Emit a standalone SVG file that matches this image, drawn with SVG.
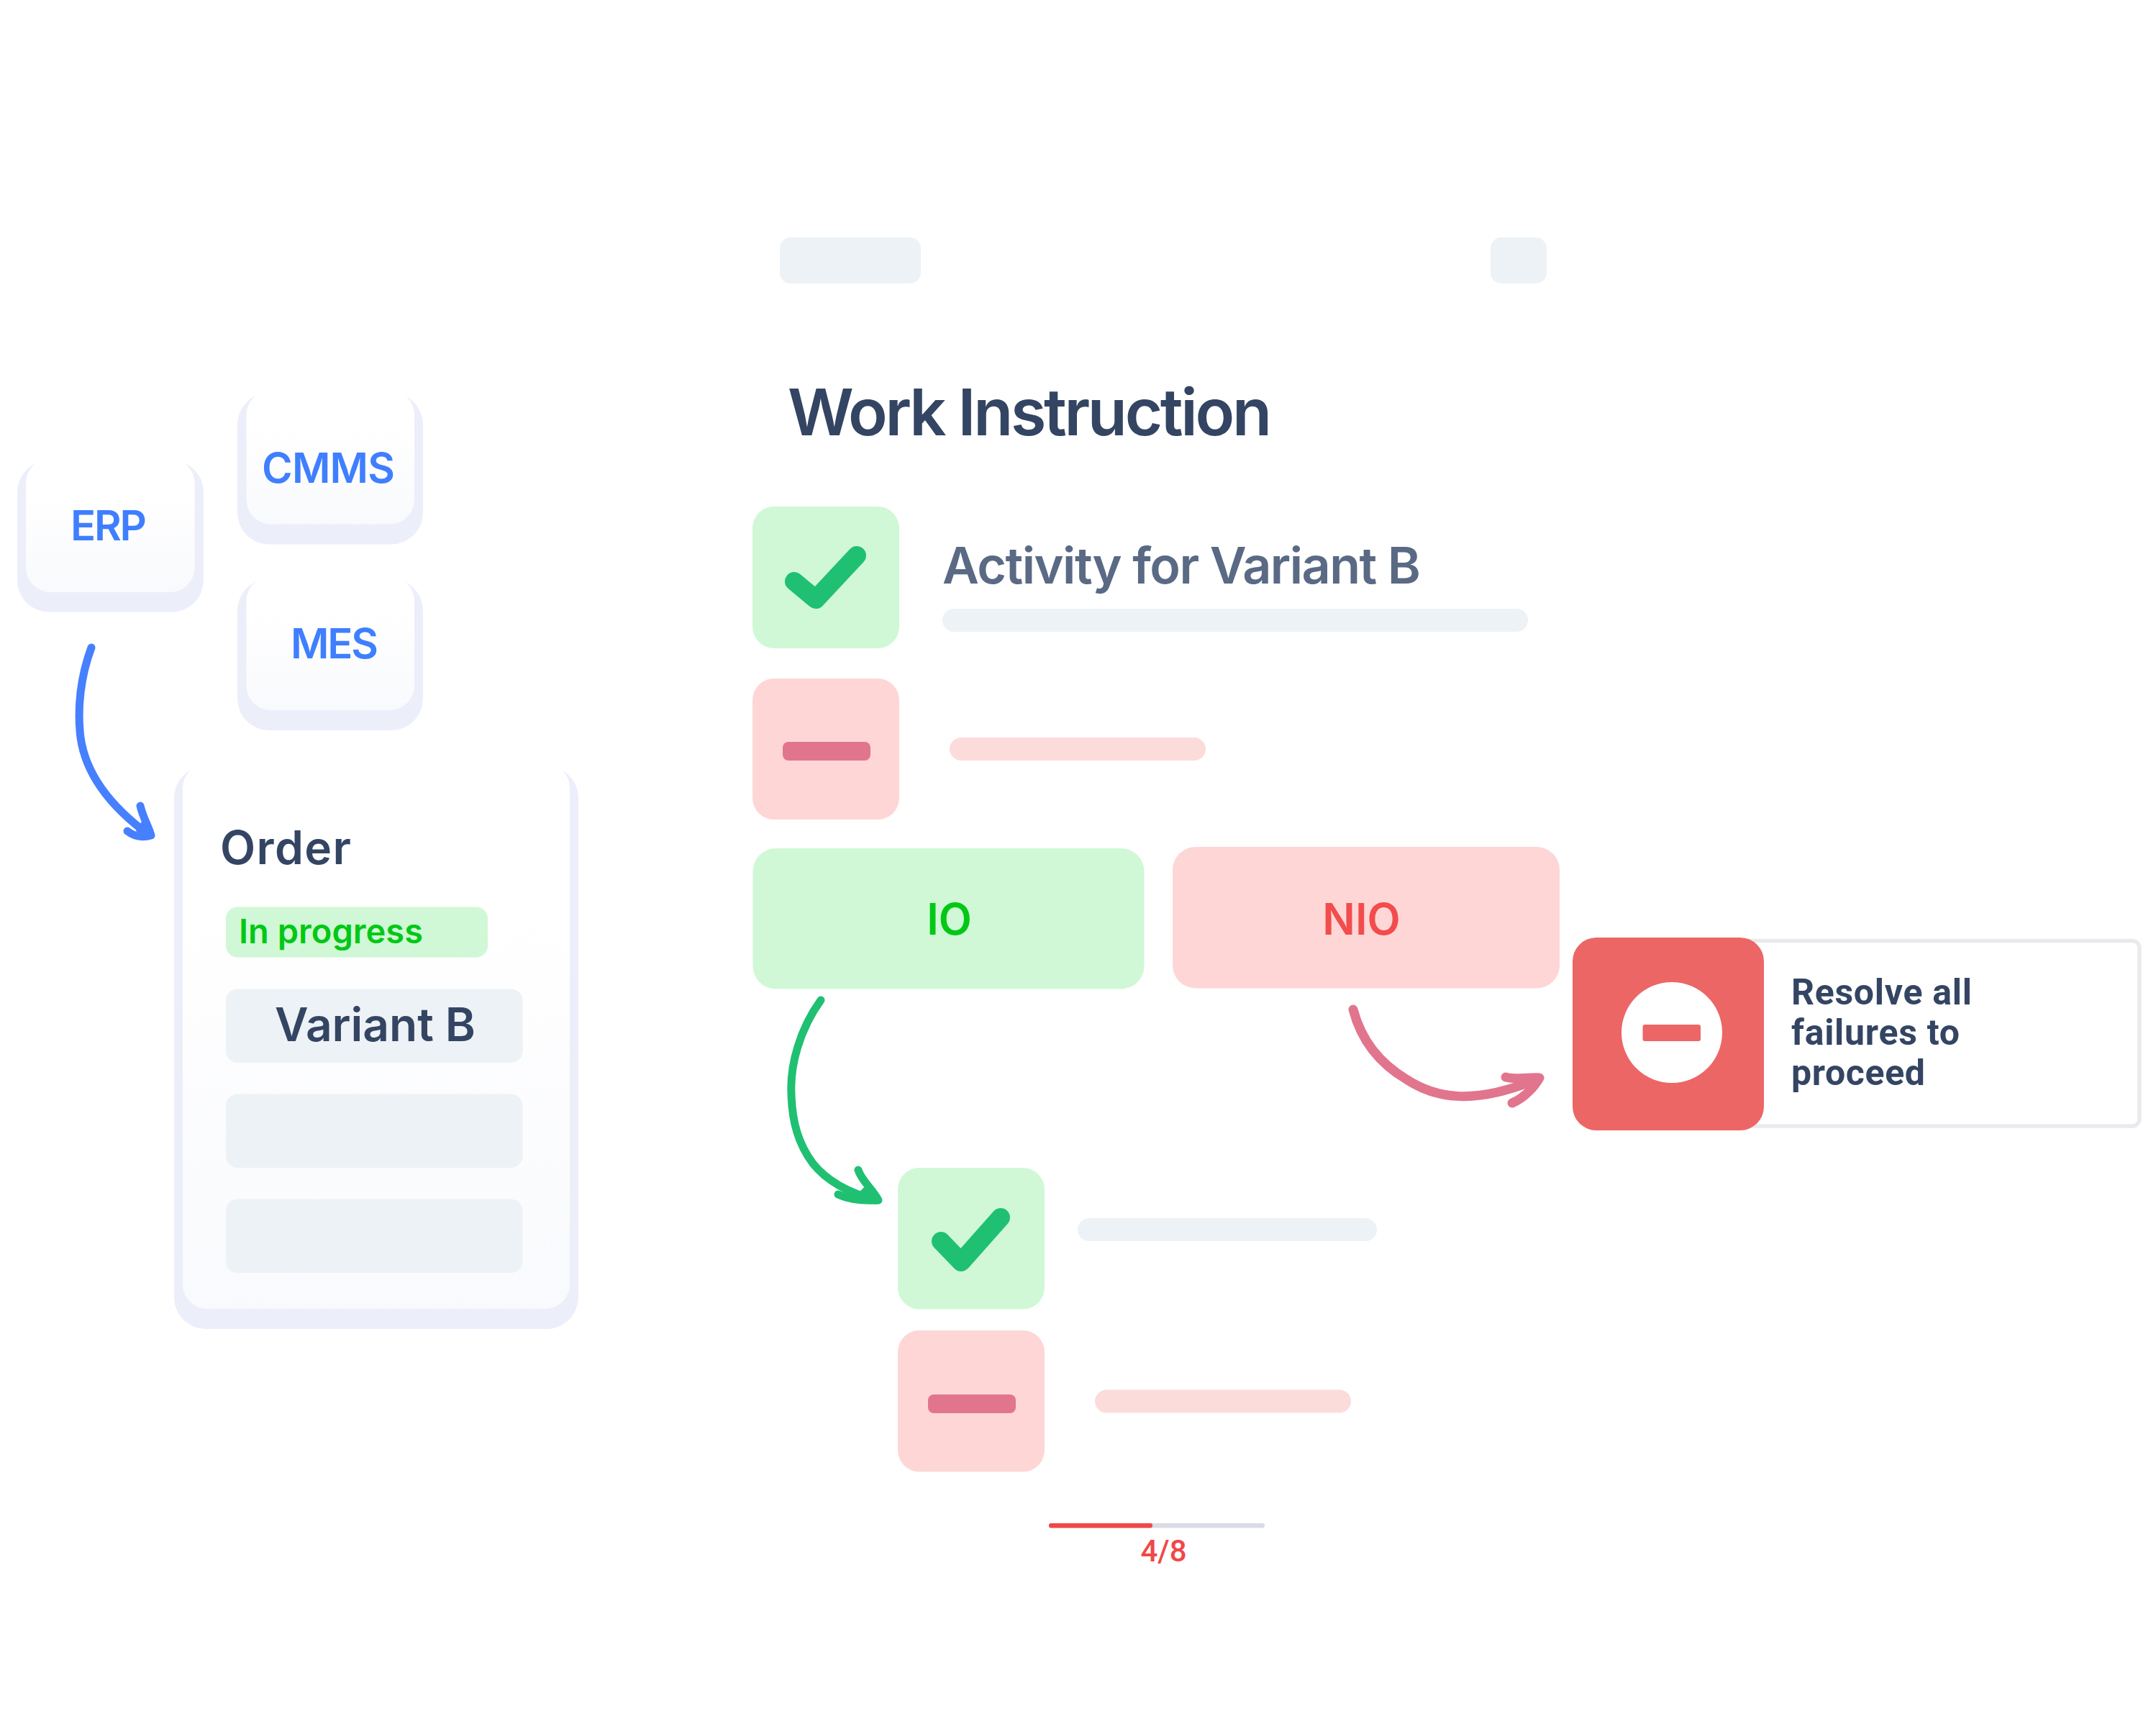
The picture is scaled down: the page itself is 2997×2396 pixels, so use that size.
<svg xmlns="http://www.w3.org/2000/svg" width="2997" height="2396" viewBox="0 0 2997 2396">
<defs>
<linearGradient id="card" x1="0" y1="0" x2="0" y2="1"><stop offset="0" stop-color="#ffffff"/><stop offset="0.25" stop-color="#ffffff"/><stop offset="1" stop-color="#f9fafd"/></linearGradient>
</defs>
<style>
text{font-family:"Inter","Liberation Sans",sans-serif}
.outer{fill:#eceffa}
.inner{fill:url(#card)}
.sys{font-size:58px;font-weight:600;fill:#3f7fff}
.dark{fill:#344563}
.g{fill:#edf2f6}
.okbg{fill:#d0f8d6}
.nobg{fill:#fed6d6}
.pb{fill:#fbdcdb}
.minus{fill:#e2758e}
.tick{fill:none;stroke:#20c072;stroke-width:26;stroke-linecap:round;stroke-linejoin:round}
.cn{fill:none;stroke-width:11;stroke-linecap:round;stroke-linejoin:round}
.rb{font-family:Roboto,sans-serif}
</style>
<rect width="2997" height="2396" fill="#ffffff"/>
<g id="top-placeholders">
<rect class="g" x="1084" y="330" width="196" height="64" rx="15"/>
<rect class="g" x="2072" y="330" width="78" height="64" rx="15"/>
</g>
<g id="erp"><rect class="outer" x="24" y="640" width="259" height="210.500" rx="44"/><rect class="inner" x="36" y="637" width="234.500" height="186" rx="34"/><text class="sys" x="98" y="751" textLength="106" lengthAdjust="spacing">ERP</text></g>
<g id="cmms"><rect class="outer" x="330" y="546" width="258" height="210.500" rx="44"/><rect class="inner" x="342.500" y="542.500" width="233.500" height="186" rx="34"/><text class="sys" x="364" y="670.500" textLength="185" lengthAdjust="spacing">CMMS</text></g>
<g id="mes"><rect class="outer" x="330" y="804.500" width="258" height="210.500" rx="44"/><rect class="inner" x="342.500" y="801" width="233.500" height="186" rx="34"/><text class="sys" x="404" y="915" textLength="122" lengthAdjust="spacing">MES</text></g>
<g id="order">
<rect class="outer" x="242" y="1065" width="562" height="782" rx="44"/>
<rect class="inner" x="254" y="1061" width="538" height="758" rx="34"/>
<text class="dark" x="306" y="1201" font-size="64" font-weight="600" textLength="182" lengthAdjust="spacing">Order</text>
<rect class="okbg" x="314" y="1260.500" width="364" height="70" rx="16"/>
<text x="332" y="1311" font-size="47" font-weight="600" fill="#00c814" textLength="256" lengthAdjust="spacing">In progress</text>
<rect class="g" x="314" y="1374.500" width="412.500" height="102.500" rx="16"/>
<text class="dark" x="382" y="1447" font-size="64" font-weight="600" textLength="279" lengthAdjust="spacing">Variant B</text>
<rect class="g" x="314" y="1520.500" width="412.500" height="102.500" rx="16"/>
<rect class="g" x="314" y="1666.500" width="412.500" height="102.500" rx="16"/>
</g>
<g id="title"><text class="dark" x="1095" y="604.500" font-size="90" font-weight="600" textLength="673" lengthAdjust="spacing">Work Instruction</text></g>
<g id="activity-ok">
<rect class="okbg" x="1046" y="704" width="204" height="197" rx="30"/>
<path class="tick" d="M1104 808L1134 833L1191 772"/>
<text x="1310" y="811" font-size="70" font-weight="600" fill="#5a6a85" textLength="665" lengthAdjust="spacing">Activity for Variant B</text>
<rect class="g" x="1310" y="846" width="814" height="32" rx="16"/>
</g>
<g id="activity-nok">
<rect class="nobg" x="1046" y="943" width="204" height="196" rx="30"/>
<rect class="minus" x="1088" y="1031" width="122" height="26" rx="8"/>
<rect class="pb" x="1320" y="1025" width="356" height="32" rx="16"/>
</g>
<g id="io"><rect class="okbg" x="1046.500" y="1179" width="544" height="195.500" rx="32"/><text x="1319.500" y="1299" font-size="60" font-weight="600" fill="#00c814" text-anchor="middle">IO</text></g>
<g id="nio"><rect class="nobg" x="1630" y="1177" width="538" height="196.500" rx="32"/><text x="1892.500" y="1299" font-size="60" font-weight="600" fill="#f24c4c" text-anchor="middle">NIO</text></g>
<g id="alert">
<rect x="2200" y="1307.500" width="774" height="257.500" rx="10" fill="#ffffff" stroke="#e9eaee" stroke-width="5.500"/>
<rect x="2186" y="1303" width="266" height="268" rx="33" fill="#ec6666"/>
<circle cx="2324" cy="1435" r="70" fill="#ffffff"/>
<rect x="2283.500" y="1424" width="80.500" height="23" rx="3" fill="#ec6666"/>
<text class="dark rb" x="2490" y="1396" font-size="50" font-weight="700" textLength="251" lengthAdjust="spacing">Resolve all</text>
<text class="dark rb" x="2490" y="1452" font-size="50" font-weight="700" textLength="234" lengthAdjust="spacing">failures to</text>
<text class="dark rb" x="2490" y="1508" font-size="50" font-weight="700" textLength="186" lengthAdjust="spacing">proceed</text>
</g>
<g id="step-ok">
<rect class="okbg" x="1248" y="1623" width="204" height="196.500" rx="30"/>
<path class="tick" d="M1308 1725L1336 1754L1391 1692"/>
<rect class="g" x="1498" y="1693" width="416" height="32" rx="16"/>
</g>
<g id="step-nok">
<rect class="nobg" x="1248" y="1849" width="204" height="196.500" rx="30"/>
<rect class="minus" x="1290" y="1938" width="122" height="26" rx="8"/>
<rect class="pb" x="1522" y="1931.500" width="356" height="32" rx="16"/>
</g>
<g id="progress">
<rect x="1458" y="2117" width="300" height="6.500" rx="3" fill="#d9dce5"/>
<rect x="1458" y="2117" width="144" height="6.500" rx="3" fill="#f04848"/>
<text x="1617.500" y="2170" font-size="42" font-weight="500" fill="#f04848" text-anchor="middle" class="rb">4/8</text>
</g>
<g id="connectors">
<g class="cn" style="stroke:#4680ff">
<path d="M127 900C112 940 107 985 112 1025C119 1075 152 1120 208 1161"/>
<path d="M195 1120C199 1137 206 1147 210 1161C199 1164 187 1163 177 1155"/>
<path d="M210 1161L200 1141L191 1154Z" fill="#4680ff" stroke-width="4"/>
</g>
<g class="cn" style="stroke:#20c072">
<path d="M1141 1390C1112 1430 1098 1480 1100 1520C1101 1560 1110 1590 1130 1617C1150 1642 1180 1658 1218 1668"/>
<path d="M1193 1626C1198 1642 1213 1652 1221 1668C1202 1669 1180 1667 1165 1660"/>
<path d="M1221 1668L1206 1648L1194 1660Z" fill="#20c072" stroke-width="4"/>
</g>
<g class="cn" style="stroke:#e2758e;stroke-width:13">
<path d="M1881 1403C1892 1445 1918 1478 1955 1500C1993 1525 2045 1537 2134 1501"/>
<path d="M2093 1497C2110 1501 2125 1497 2140 1498C2132 1512 2118 1526 2102 1533"/>
<path d="M2140 1498L2118 1505L2126 1518Z" fill="#e2758e" stroke-width="4"/>
</g>
</g>
</svg>
